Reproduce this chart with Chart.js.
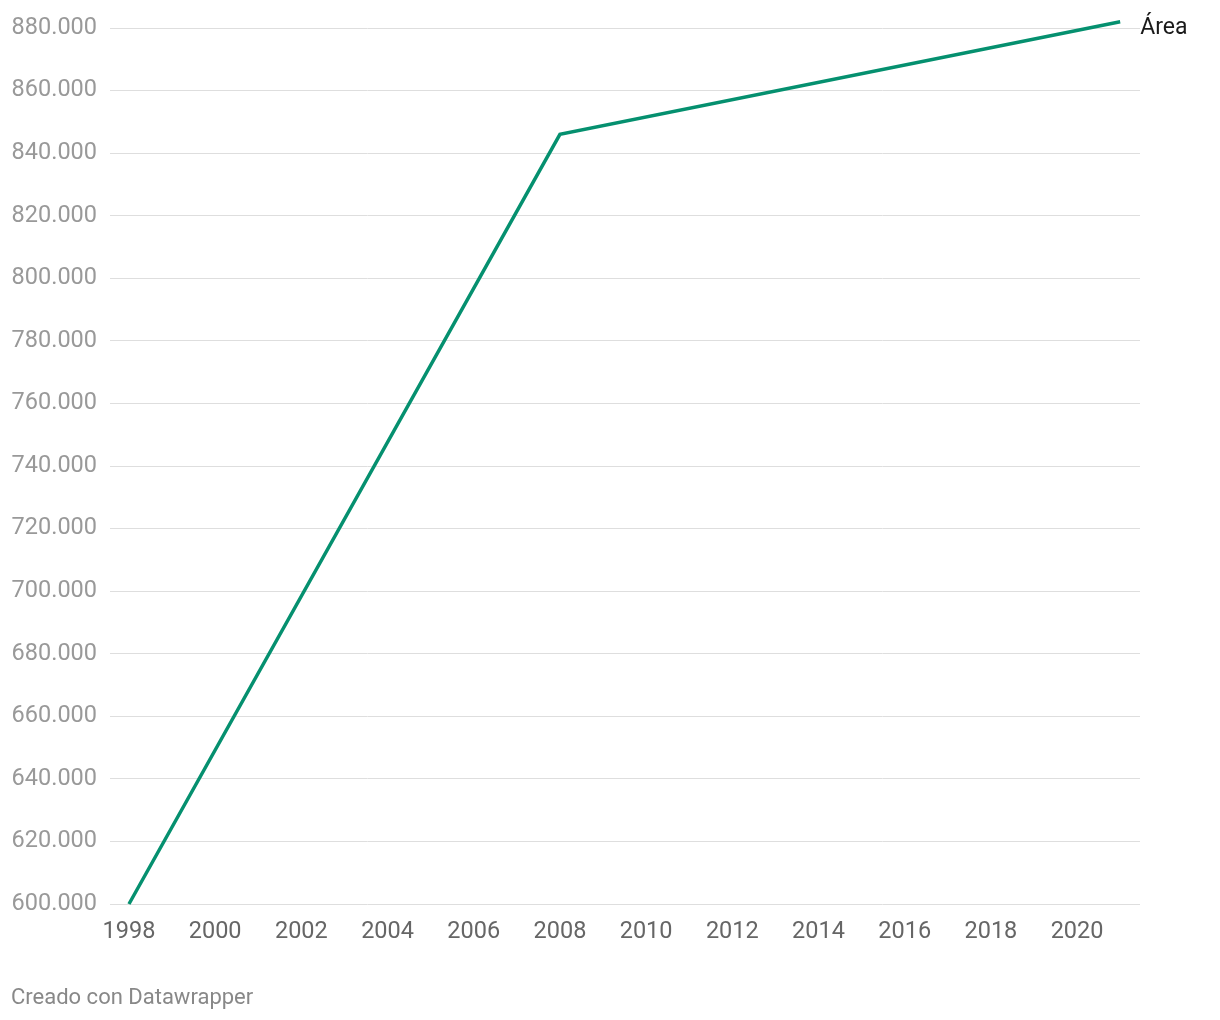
<!DOCTYPE html>
<html>
<head>
<meta charset="utf-8">
<script src="https://cdn.jsdelivr.net/npm/chart.js@4"></script>
<style>
  html, body { margin: 0; padding: 0; background: #fff; }
  #wrap { position: relative; width: 1220px; height: 1020px; }
  #footer { position: absolute; left: 11px; top: 984px; font: 22px Roboto, sans-serif; color: #888; white-space: nowrap; }
</style>
</head>
<body>
<div id="wrap">
  <canvas id="c" width="1220" height="1020"></canvas>
  <div id="footer">Creado con Datawrapper</div>
</div>
<script>
const years = [1998, 2008, 2021];
const areaValues = [600000, 846000, 882000];
const seriesName = 'Área';
const xTicks = [1998, 2000, 2002, 2004, 2006, 2008, 2010, 2012, 2014, 2016, 2018, 2020];
const yTicks = [600000, 620000, 640000, 660000, 680000, 700000, 720000, 740000, 760000, 780000, 800000, 820000, 840000, 860000, 880000];

const fmt = v => Math.round(v).toString().replace(/\B(?=(\d{3})+(?!\d))/g, '.');

const endLabel = {
  id: 'endLabel',
  afterDatasetsDraw(chart) {
    const meta = chart.getDatasetMeta(0);
    const pt = meta.data[meta.data.length - 1];
    const ctx = chart.ctx;
    ctx.save();
    ctx.font = '23px Roboto, sans-serif';
    ctx.fillStyle = '#1a1a1a';
    ctx.textAlign = 'left';
    ctx.textBaseline = 'middle';
    ctx.fillText(seriesName, pt.x + 20, pt.y + 7);
    ctx.restore();
  }
};

new Chart(document.getElementById('c'), {
  type: 'line',
  data: {
    datasets: [{
      label: seriesName,
      data: years.map((y, i) => ({ x: y, y: areaValues[i] })),
      borderColor: '#05906f',
      borderWidth: 3.5,
      pointRadius: 0,
      fill: false,
      tension: 0,
      clip: false
    }]
  },
  options: {
    responsive: false,
    animation: false,
    layout: { padding: { top: 28, left: 0, right: 80, bottom: 0 } },
    plugins: { legend: { display: false }, tooltip: { enabled: false } },
    scales: {
      x: {
        type: 'linear',
        min: 1997.56,
        max: 2021.46,
        afterBuildTicks: s => { s.ticks = xTicks.map(v => ({ value: v })); },
        afterFit: s => { s.height = 116; },
        grid: { display: false, drawTicks: false },
        border: { display: false },
        ticks: {
          padding: 14,
          color: '#666',
          font: { family: 'Roboto', size: 23.5 },
          maxRotation: 0,
          autoSkip: false,
          callback: v => String(v)
        }
      },
      y: {
        min: 600000,
        max: 880000,
        afterBuildTicks: s => { s.ticks = yTicks.map(v => ({ value: v })); },
        afterFit: s => { s.width = 110; },
        grid: { color: '#dedede', lineWidth: 1, drawTicks: false },
        border: { display: false },
        ticks: {
          padding: 13,
          color: '#999',
          font: { family: 'Roboto', size: 23.5 },
          callback: v => fmt(v)
        }
      }
    }
  },
  plugins: [endLabel]
});
</script>
</body>
</html>
